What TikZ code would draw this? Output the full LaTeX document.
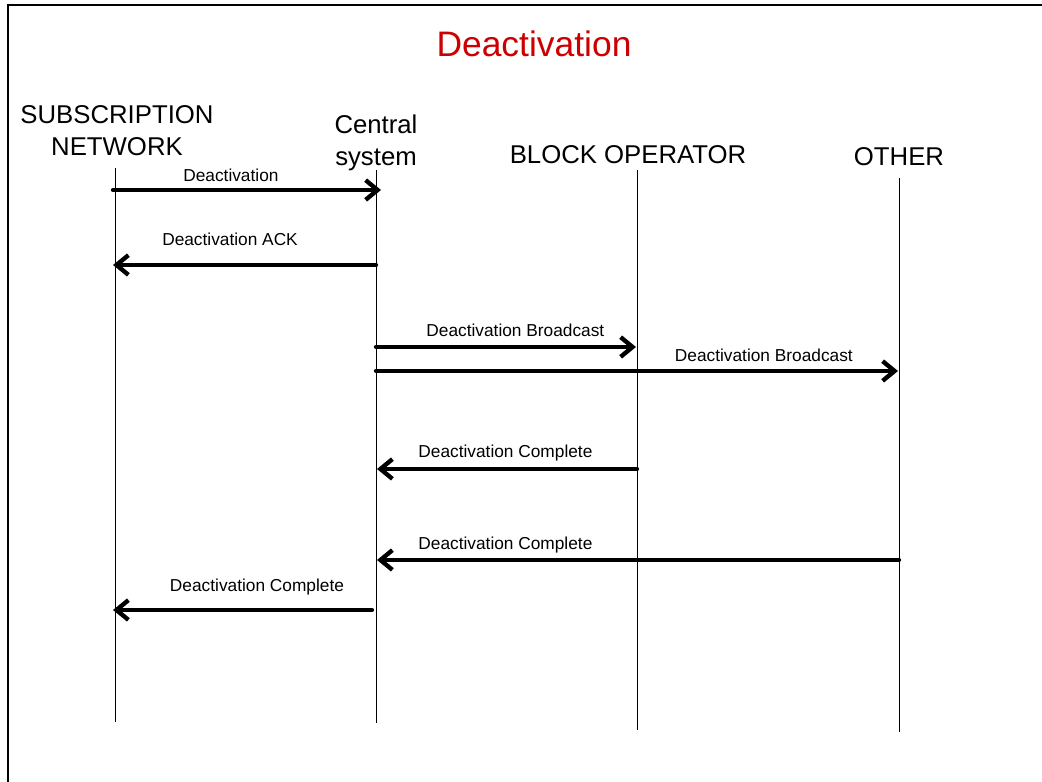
\documentclass[tikz,border=0pt]{standalone}
\usepackage{fontspec}
\setmainfont{Liberation Sans}
\usetikzlibrary{arrows.meta,positioning}
\definecolor{titlered}{RGB}{204,0,0}
\tikzset{>={Straight Barb[length=8.5pt,width=14pt]}}
\tikzset{msg/.style={->, line width=3.1pt, line cap=round}}
\tikzset{life/.style={draw=black, line width=0.7pt}}
\tikzset{actor/.style={font=\fontsize{18.3}{22.5}\selectfont, align=center, anchor=base}}
\tikzset{lbl/.style={font=\fontsize{12.3}{14}\selectfont, anchor=base}}

\begin{document}
\begin{tikzpicture}[x=0.025cm, y=-0.025cm]
    \useasboundingbox (0,0) rectangle (1042,782);
    \draw[line width=1.4pt] (8,782) -- (8,5) -- (1042,5);
    \node[text=titlered, font=\fontsize{25.2}{30}\selectfont, anchor=base] (title) at (534,57) {Deactivation};

    % actors
    \node[actor] (net)     at (117,155) {SUBSCRIPTION\\NETWORK};
    \node[actor] (central) at (376,165) {Central\\system};
    \node[actor] (block)   at (628,163) {BLOCK OPERATOR};
    \node[actor] (other)   at (899,166) {OTHER};

    % lifelines
    \coordinate (netT) at (115,168);     \coordinate (netB) at (115,722);
    \coordinate (centralT) at (376,170); \coordinate (centralB) at (376,723);
    \coordinate (blockT) at (637,170);   \coordinate (blockB) at (637,730);
    \coordinate (otherT) at (899,178);   \coordinate (otherB) at (899,732);
    \draw[life] (netT) -- (netB);
    \draw[life] (centralT) -- (centralB);
    \draw[life] (blockT) -- (blockB);
    \draw[life] (otherT) -- (otherB);

    % message end points
    \coordinate (m1a) at (113,190); \coordinate (m1b) at (381,190);
    \coordinate (m2a) at (376,265); \coordinate (m2b) at (113,265);
    \coordinate (m3a) at (376,347); \coordinate (m3b) at (636,347);
    \coordinate (m4a) at (376,371); \coordinate (m4b) at (898,371);
    \coordinate (m5a) at (637,469); \coordinate (m5b) at (377,469);
    \coordinate (m6a) at (899,560); \coordinate (m6b) at (377,560);
    \coordinate (m7a) at (372,610); \coordinate (m7b) at (113,610);

    \draw[msg] (m1a) to node[lbl, pos=0.44, yshift=5.7pt] {Deactivation} (m1b);
    \draw[msg] (m2a) to node[lbl, pos=0.555, yshift=14.2pt] {Deactivation ACK} (m2b);
    \draw[msg] (m3a) to node[lbl, pos=0.536, yshift=7.8pt] {Deactivation Broadcast} (m3b);
    \draw[msg] (m4a) to node[lbl, pos=0.743, yshift=7.1pt] {Deactivation Broadcast} (m4b);
    \draw[msg] (m5a) to node[lbl, pos=0.506, yshift=8.5pt] {Deactivation Complete} (m5b);
    \draw[msg] (m6a) to node[lbl, pos=0.754, yshift=7.8pt] {Deactivation Complete} (m6b);
    \draw[msg] (m7a) to node[lbl, pos=0.444, yshift=13.5pt] {Deactivation Complete} (m7b);
\end{tikzpicture}
\end{document}
